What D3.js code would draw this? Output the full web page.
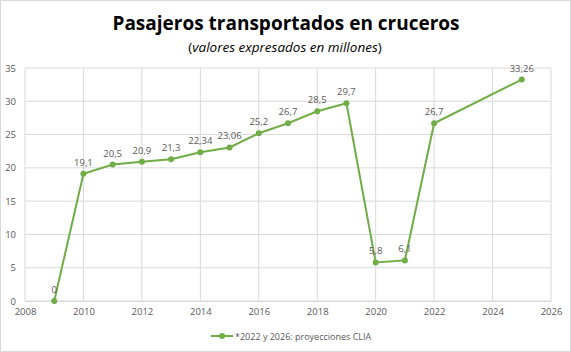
<!DOCTYPE html>
<html><head><meta charset="utf-8">
<script src="https://cdn.jsdelivr.net/npm/d3@7"></script>
<style>body{margin:0;background:#fff}svg{display:block}text{font-family:"Open Sans","Noto Sans",sans-serif}</style>
</head><body>
<svg id="c" width="571" height="352"></svg>
<script>
const years = [2009,2010,2011,2012,2013,2014,2015,2016,2017,2018,2019,2020,2021,2022,2025];
const values = [0,19.1,20.5,20.9,21.3,22.34,23.06,25.2,26.7,28.5,29.7,5.8,6.1,26.7,33.26];
const labels = ["0","19,1","20,5","20,9","21,3","22,34","23,06","25,2","26,7","28,5","29,7","5,8","6,1","26,7","33,26"];
const xTicks = [2008,2010,2012,2014,2016,2018,2020,2022,2024,2026];
const yTicks = [0,5,10,15,20,25,30,35];
const title = "Pasajeros transportados en cruceros";
const subtitle = "valores expresados en millones";
const legendLabel = "*2022 y 2026: proyecciones CLIA";

const svg = d3.select("#c");
const W=571,H=352;
svg.append("rect").attr("x",0.5).attr("y",0.5).attr("width",W-1).attr("height",H-1).attr("fill","#fff").attr("stroke","#d9d9d9");
const L=25,R=551,T=68,B=301;
const x=d3.scaleLinear().domain([2008,2026]).range([L,R]);
const y=d3.scaleLinear().domain([0,35]).range([B,T]);
const green="#70AD47", gray="#595959";

svg.append("g").selectAll("line").data(yTicks).join("line")
 .attr("x1",L).attr("x2",R).attr("y1",d=>y(d)).attr("y2",d=>y(d)).attr("stroke","#d9d9d9");
svg.append("g").selectAll("line").data(xTicks).join("line")
 .attr("y1",T).attr("y2",B).attr("x1",d=>x(d)).attr("x2",d=>x(d)).attr("stroke","#d9d9d9");

const yAx=svg.append("g").attr("transform",`translate(${L},0)`).call(d3.axisLeft(y).tickValues(yTicks).tickSize(0).tickPadding(9));
yAx.select(".domain").remove();
yAx.selectAll("text").attr("fill",gray).style("font-size","9.5px");
const xAx=svg.append("g").attr("transform",`translate(0,${B})`).call(d3.axisBottom(x).tickValues(xTicks).tickFormat(d3.format("d")).tickSize(0).tickPadding(7));
xAx.select(".domain").attr("stroke","#d9d9d9");
xAx.selectAll("text").attr("fill",gray).style("font-size","9.5px");

const data=years.map((d,i)=>({x:d,v:values[i],l:labels[i]}));
svg.append("path").datum(data).attr("fill","none").attr("stroke",green).attr("stroke-width",2)
 .attr("d",d3.line().x(d=>x(d.x)).y(d=>y(d.v)));
svg.append("g").selectAll("circle").data(data).join("circle")
 .attr("cx",d=>x(d.x)).attr("cy",d=>y(d.v)).attr("r",3).attr("fill",green);
svg.append("g").selectAll("text").data(data).join("text")
 .attr("x",d=>x(d.x)).attr("y",d=>y(d.v)-8).attr("text-anchor","middle")
 .attr("fill",gray).style("font-size","9.5px").text(d=>d.l);

svg.append("text").attr("x",286).attr("y",30).attr("text-anchor","middle")
 .style("font-size","19px").style("font-weight","bold").attr("fill","#000").text(title);
const st=svg.append("text").attr("x",285).attr("y",52).attr("text-anchor","middle").style("font-size","13.5px").attr("fill","#000");
st.append("tspan").text("(");
st.append("tspan").style("font-style","italic").text(subtitle);
st.append("tspan").text(")");

const lg=svg.append("g").attr("transform","translate(211,336)");
lg.append("line").attr("x1",0).attr("x2",22).attr("y1",0).attr("y2",0).attr("stroke",green).attr("stroke-width",2);
lg.append("circle").attr("cx",11).attr("cy",0).attr("r",3).attr("fill",green);
lg.append("text").attr("x",24).attr("y",3.5).attr("fill",gray).style("font-size","9px").text(legendLabel);
</script>
</body></html>
